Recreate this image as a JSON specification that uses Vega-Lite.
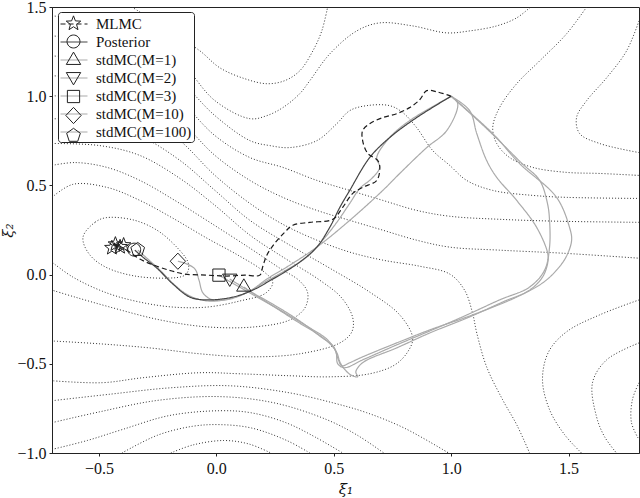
{
"$schema":"https://vega.github.io/schema/vega-lite/v6.json",
"width":587,"height":446,"autosize":{"type":"none"},
"padding":{"left":52,"top":7,"right":1,"bottom":45},
"background":"white",
"config":{"view":{"stroke":"#222","strokeWidth":1},"font":"Liberation Serif"},
"datasets":{
"ct":[
{"c":"C1","i":0,"x":-0.568,"y":0.209},{"c":"C1","i":1,"x":-0.517,"y":0.293},{"c":"C1","i":2,"x":-0.453,"y":0.321},{"c":"C1","i":3,"x":-0.347,"y":0.304},{"c":"C1","i":4,"x":-0.253,"y":0.249},{"c":"C1","i":5,"x":-0.177,"y":0.165},{"c":"C1","i":6,"x":-0.121,"y":0.07},{"c":"C1","i":7,"x":-0.134,"y":-0.003},{"c":"C1","i":8,"x":-0.219,"y":-0.02},{"c":"C1","i":9,"x":-0.347,"y":-0.008},{"c":"C1","i":10,"x":-0.462,"y":0.036},{"c":"C1","i":11,"x":-0.538,"y":0.109},
{"c":"C2","i":0,"x":-0.7,"y":0.433},{"c":"C2","i":1,"x":-0.611,"y":0.506},{"c":"C2","i":2,"x":-0.466,"y":0.489},{"c":"C2","i":3,"x":-0.326,"y":0.416},{"c":"C2","i":4,"x":-0.185,"y":0.316},{"c":"C2","i":5,"x":-0.04,"y":0.204},{"c":"C2","i":6,"x":0.1,"y":0.103},{"c":"C2","i":7,"x":0.194,"y":0.025},{"c":"C2","i":8,"x":0.24,"y":-0.042},{"c":"C2","i":9,"x":0.211,"y":-0.103},{"c":"C2","i":10,"x":0.1,"y":-0.148},{"c":"C2","i":11,"x":-0.04,"y":-0.182},{"c":"C2","i":12,"x":-0.185,"y":-0.182},{"c":"C2","i":13,"x":-0.326,"y":-0.154},{"c":"C2","i":14,"x":-0.466,"y":-0.103},{"c":"C2","i":15,"x":-0.611,"y":-0.014},{"c":"C2","i":16,"x":-0.7,"y":0.07},
{"c":"C3","i":0,"x":-0.7,"y":0.612},{"c":"C3","i":1,"x":-0.602,"y":0.628},{"c":"C3","i":2,"x":-0.466,"y":0.601},{"c":"C3","i":3,"x":-0.326,"y":0.528},{"c":"C3","i":4,"x":-0.177,"y":0.416},{"c":"C3","i":5,"x":-0.028,"y":0.293},{"c":"C3","i":6,"x":0.143,"y":0.148},{"c":"C3","i":7,"x":0.27,"y":0.036},{"c":"C3","i":8,"x":0.355,"y":-0.036},{"c":"C3","i":9,"x":0.389,"y":-0.103},{"c":"C3","i":10,"x":0.377,"y":-0.187},{"c":"C3","i":11,"x":0.313,"y":-0.254},{"c":"C3","i":12,"x":0.164,"y":-0.293},{"c":"C3","i":13,"x":-0.04,"y":-0.293},{"c":"C3","i":14,"x":-0.24,"y":-0.254},{"c":"C3","i":15,"x":-0.453,"y":-0.182},{"c":"C3","i":16,"x":-0.602,"y":-0.126},{"c":"C3","i":17,"x":-0.7,"y":-0.087},
{"c":"C4","i":0,"x":-0.7,"y":0.735},{"c":"C4","i":1,"x":-0.496,"y":0.723},{"c":"C4","i":2,"x":-0.326,"y":0.668},{"c":"C4","i":3,"x":-0.155,"y":0.539},{"c":"C4","i":4,"x":-0.006,"y":0.388},{"c":"C4","i":5,"x":0.143,"y":0.221},{"c":"C4","i":6,"x":0.291,"y":0.092},{"c":"C4","i":7,"x":0.44,"y":-0.031},{"c":"C4","i":8,"x":0.534,"y":-0.131},{"c":"C4","i":9,"x":0.581,"y":-0.243},{"c":"C4","i":10,"x":0.577,"y":-0.321},{"c":"C4","i":11,"x":0.526,"y":-0.383},{"c":"C4","i":12,"x":0.355,"y":-0.444},{"c":"C4","i":13,"x":0.143,"y":-0.461},{"c":"C4","i":14,"x":-0.07,"y":-0.444},{"c":"C4","i":15,"x":-0.283,"y":-0.411},{"c":"C4","i":16,"x":-0.496,"y":-0.388},{"c":"C4","i":17,"x":-0.7,"y":-0.372},
{"c":"C5","i":0,"x":-0.7,"y":0.874},{"c":"C5","i":1,"x":-0.496,"y":0.852},{"c":"C5","i":2,"x":-0.326,"y":0.779},{"c":"C5","i":3,"x":-0.155,"y":0.64},{"c":"C5","i":4,"x":-0.006,"y":0.472},{"c":"C5","i":5,"x":0.143,"y":0.304},{"c":"C5","i":6,"x":0.313,"y":0.165},{"c":"C5","i":7,"x":0.483,"y":0.036},{"c":"C5","i":8,"x":0.653,"y":-0.098},{"c":"C5","i":9,"x":0.781,"y":-0.226},{"c":"C5","i":10,"x":0.836,"y":-0.355},{"c":"C5","i":11,"x":0.815,"y":-0.433},{"c":"C5","i":12,"x":0.76,"y":-0.506},{"c":"C5","i":13,"x":0.653,"y":-0.556},{"c":"C5","i":14,"x":0.483,"y":-0.573},{"c":"C5","i":15,"x":0.313,"y":-0.567},{"c":"C5","i":16,"x":0.1,"y":-0.556},{"c":"C5","i":17,"x":-0.07,"y":-0.55},{"c":"C5","i":18,"x":-0.313,"y":-0.578},{"c":"C5","i":19,"x":-0.487,"y":-0.606},{"c":"C5","i":20,"x":-0.7,"y":-0.595},
{"c":"C6","i":0,"x":-0.7,"y":1.003},{"c":"C6","i":1,"x":-0.496,"y":0.975},{"c":"C6","i":2,"x":-0.326,"y":0.908},{"c":"C6","i":3,"x":-0.155,"y":0.751},{"c":"C6","i":4,"x":-0.006,"y":0.556},{"c":"C6","i":5,"x":0.143,"y":0.399},{"c":"C6","i":6,"x":0.283,"y":0.282},{"c":"C6","i":7,"x":0.428,"y":0.193},{"c":"C6","i":8,"x":0.568,"y":0.126},{"c":"C6","i":9,"x":0.709,"y":0.081},{"c":"C6","i":10,"x":0.866,"y":0.047},{"c":"C6","i":11,"x":0.994,"y":0.003},{"c":"C6","i":12,"x":1.057,"y":-0.087},{"c":"C6","i":13,"x":1.091,"y":-0.215},{"c":"C6","i":14,"x":1.109,"y":-0.327},{"c":"C6","i":15,"x":1.151,"y":-0.517},{"c":"C6","i":16,"x":1.219,"y":-0.701},{"c":"C6","i":17,"x":1.279,"y":-0.841},{"c":"C6","i":18,"x":1.334,"y":-1.0},
{"c":"UF","i":0,"x":-0.7,"y":1.115},{"c":"UF","i":1,"x":-0.496,"y":1.087},{"c":"UF","i":2,"x":-0.326,"y":1.02},{"c":"UF","i":3,"x":-0.155,"y":0.863},{"c":"UF","i":4,"x":-0.006,"y":0.668},{"c":"UF","i":5,"x":0.143,"y":0.528},{"c":"UF","i":6,"x":0.283,"y":0.433},{"c":"UF","i":7,"x":0.428,"y":0.36},{"c":"UF","i":8,"x":0.568,"y":0.304},{"c":"UF","i":9,"x":0.709,"y":0.249},{"c":"UF","i":10,"x":0.853,"y":0.193},{"c":"UF","i":11,"x":0.994,"y":0.154},{"c":"UF","i":12,"x":1.206,"y":0.137},{"c":"UF","i":13,"x":1.474,"y":0.12},{"c":"UF","i":14,"x":1.8,"y":0.092},
{"c":"UE","i":0,"x":-0.7,"y":1.226},{"c":"UE","i":1,"x":-0.496,"y":1.198},{"c":"UE","i":2,"x":-0.326,"y":1.131},{"c":"UE","i":3,"x":-0.155,"y":0.975},{"c":"UE","i":4,"x":-0.006,"y":0.779},{"c":"UE","i":5,"x":0.143,"y":0.656},{"c":"UE","i":6,"x":0.283,"y":0.601},{"c":"UE","i":7,"x":0.428,"y":0.528},{"c":"UE","i":8,"x":0.568,"y":0.472},{"c":"UE","i":9,"x":0.709,"y":0.416},{"c":"UE","i":10,"x":0.853,"y":0.36},{"c":"UE","i":11,"x":0.994,"y":0.327},{"c":"UE","i":12,"x":1.206,"y":0.31},{"c":"UE","i":13,"x":1.462,"y":0.299},{"c":"UE","i":14,"x":1.8,"y":0.293},
{"c":"UD","i":0,"x":-0.7,"y":1.338},{"c":"UD","i":1,"x":-0.496,"y":1.31},{"c":"UD","i":2,"x":-0.326,"y":1.243},{"c":"UD","i":3,"x":-0.155,"y":1.087},{"c":"UD","i":4,"x":-0.006,"y":0.891},{"c":"UD","i":5,"x":0.143,"y":0.751},{"c":"UD","i":6,"x":0.228,"y":0.723},{"c":"UD","i":7,"x":0.313,"y":0.712},{"c":"UD","i":8,"x":0.428,"y":0.751},{"c":"UD","i":9,"x":0.513,"y":0.846},{"c":"UD","i":10,"x":0.568,"y":0.919},{"c":"UD","i":11,"x":0.64,"y":0.947},{"c":"UD","i":12,"x":0.738,"y":0.947},{"c":"UD","i":13,"x":0.794,"y":0.908},{"c":"UD","i":14,"x":0.853,"y":0.824},{"c":"UD","i":15,"x":0.921,"y":0.696},{"c":"UD","i":16,"x":0.994,"y":0.612},{"c":"UD","i":17,"x":1.066,"y":0.528},{"c":"UD","i":18,"x":1.177,"y":0.472},{"c":"UD","i":19,"x":1.347,"y":0.444},{"c":"UD","i":20,"x":1.491,"y":0.433},{"c":"UD","i":21,"x":1.8,"y":0.427},
{"c":"UA","i":0,"x":-0.7,"y":1.45},{"c":"UA","i":1,"x":-0.496,"y":1.422},{"c":"UA","i":2,"x":-0.326,"y":1.355},{"c":"UA","i":3,"x":-0.155,"y":1.198},{"c":"UA","i":4,"x":-0.006,"y":0.975},{"c":"UA","i":5,"x":0.143,"y":0.874},{"c":"UA","i":6,"x":0.215,"y":0.891},{"c":"UA","i":7,"x":0.283,"y":0.936},{"c":"UA","i":8,"x":0.355,"y":1.014},{"c":"UA","i":9,"x":0.398,"y":1.087},{"c":"UA","i":10,"x":0.483,"y":1.237},{"c":"UA","i":11,"x":0.598,"y":1.366},{"c":"UA","i":12,"x":0.696,"y":1.411},{"c":"UA","i":13,"x":0.836,"y":1.394},{"c":"UA","i":14,"x":0.981,"y":1.355},{"c":"UA","i":15,"x":1.079,"y":1.366},{"c":"UA","i":16,"x":1.194,"y":1.394},{"c":"UA","i":17,"x":1.279,"y":1.439},{"c":"UA","i":18,"x":1.338,"y":1.5},
{"c":"U0","i":0,"x":-0.36,"y":1.5},{"c":"U0","i":1,"x":-0.198,"y":1.366},{"c":"U0","i":2,"x":-0.07,"y":1.254},{"c":"U0","i":3,"x":0.015,"y":1.159},{"c":"U0","i":4,"x":0.121,"y":1.098},{"c":"U0","i":5,"x":0.215,"y":1.07},{"c":"U0","i":6,"x":0.291,"y":1.087},{"c":"U0","i":7,"x":0.355,"y":1.142},{"c":"U0","i":8,"x":0.411,"y":1.254},{"c":"U0","i":9,"x":0.449,"y":1.366},{"c":"U0","i":10,"x":0.474,"y":1.5},
{"c":"A1","i":0,"x":-0.194,"y":-1.0},{"c":"A1","i":1,"x":-0.1,"y":-0.955},{"c":"A1","i":2,"x":0.032,"y":-0.93},{"c":"A1","i":3,"x":0.14,"y":-0.95},{"c":"A1","i":4,"x":0.232,"y":-1.0},
{"c":"A2","i":0,"x":-0.402,"y":-1.0},{"c":"A2","i":1,"x":-0.25,"y":-0.9},{"c":"A2","i":2,"x":-0.1,"y":-0.85},{"c":"A2","i":3,"x":0.015,"y":-0.841},{"c":"A2","i":4,"x":0.15,"y":-0.86},{"c":"A2","i":5,"x":0.3,"y":-0.93},{"c":"A2","i":6,"x":0.398,"y":-1.0},
{"c":"A3","i":0,"x":-0.7,"y":-0.98},{"c":"A3","i":1,"x":-0.55,"y":-0.93},{"c":"A3","i":2,"x":-0.402,"y":-0.869},{"c":"A3","i":3,"x":-0.2,"y":-0.79},{"c":"A3","i":4,"x":0.015,"y":-0.763},{"c":"A3","i":5,"x":0.15,"y":-0.775},{"c":"A3","i":6,"x":0.296,"y":-0.83},{"c":"A3","i":7,"x":0.42,"y":-0.91},{"c":"A3","i":8,"x":0.538,"y":-1.0},
{"c":"A4","i":0,"x":-0.7,"y":-0.83},{"c":"A4","i":1,"x":-0.5,"y":-0.77},{"c":"A4","i":2,"x":-0.25,"y":-0.705},{"c":"A4","i":3,"x":0.015,"y":-0.684},{"c":"A4","i":4,"x":0.25,"y":-0.72},{"c":"A4","i":5,"x":0.47,"y":-0.813},{"c":"A4","i":6,"x":0.6,"y":-0.9},{"c":"A4","i":7,"x":0.713,"y":-1.0},
{"c":"A5","i":0,"x":-0.7,"y":-0.707},{"c":"A5","i":1,"x":-0.45,"y":-0.67},{"c":"A5","i":2,"x":-0.2,"y":-0.635},{"c":"A5","i":3,"x":0.053,"y":-0.623},{"c":"A5","i":4,"x":0.3,"y":-0.66},{"c":"A5","i":5,"x":0.5,"y":-0.72},{"c":"A5","i":6,"x":0.64,"y":-0.774},{"c":"A5","i":7,"x":0.8,"y":-0.86},{"c":"A5","i":8,"x":0.989,"y":-1.0},
{"c":"RA","i":0,"x":1.8,"y":-0.142},{"c":"RA","i":1,"x":1.632,"y":-0.226},{"c":"RA","i":2,"x":1.491,"y":-0.321},{"c":"RA","i":3,"x":1.415,"y":-0.433},{"c":"RA","i":4,"x":1.389,"y":-0.589},{"c":"RA","i":5,"x":1.419,"y":-0.757},{"c":"RA","i":6,"x":1.483,"y":-0.897},{"c":"RA","i":7,"x":1.555,"y":-1.0},
{"c":"RB","i":0,"x":1.8,"y":-0.383},{"c":"RB","i":1,"x":1.662,"y":-0.478},{"c":"RB","i":2,"x":1.602,"y":-0.606},{"c":"RB","i":3,"x":1.619,"y":-0.796},{"c":"RB","i":4,"x":1.653,"y":-0.908},{"c":"RB","i":5,"x":1.704,"y":-1.0},
{"c":"RC","i":0,"x":1.8,"y":-0.606},{"c":"RC","i":1,"x":1.772,"y":-0.701},{"c":"RC","i":2,"x":1.768,"y":-0.83},{"c":"RC","i":3,"x":1.8,"y":-0.925},
{"c":"UB","i":0,"x":1.577,"y":1.5},{"c":"UB","i":1,"x":1.491,"y":1.349},{"c":"UB","i":2,"x":1.377,"y":1.198},{"c":"UB","i":3,"x":1.279,"y":1.07},{"c":"UB","i":4,"x":1.206,"y":0.936},{"c":"UB","i":5,"x":1.177,"y":0.824},{"c":"UB","i":6,"x":1.194,"y":0.735},{"c":"UB","i":7,"x":1.249,"y":0.656},{"c":"UB","i":8,"x":1.347,"y":0.601},{"c":"UB","i":9,"x":1.491,"y":0.573},{"c":"UB","i":10,"x":1.632,"y":0.567},{"c":"UB","i":11,"x":1.8,"y":0.556},
{"c":"UC","i":0,"x":1.8,"y":1.422},{"c":"UC","i":1,"x":1.747,"y":1.254},{"c":"UC","i":2,"x":1.662,"y":1.103},{"c":"UC","i":3,"x":1.577,"y":0.975},{"c":"UC","i":4,"x":1.534,"y":0.88},{"c":"UC","i":5,"x":1.547,"y":0.791},{"c":"UC","i":6,"x":1.632,"y":0.735},{"c":"UC","i":7,"x":1.8,"y":0.684}
],
"tr":[
{"s":"stdMC(M=1)","i":0,"x":1.0,"y":1.0},{"s":"stdMC(M=1)","i":1,"x":1.177,"y":0.791},{"s":"stdMC(M=1)","i":2,"x":1.291,"y":0.623},{"s":"stdMC(M=1)","i":3,"x":1.449,"y":0.433},{"s":"stdMC(M=1)","i":4,"x":1.504,"y":0.265},{"s":"stdMC(M=1)","i":5,"x":1.513,"y":0.193},{"s":"stdMC(M=1)","i":6,"x":1.491,"y":0.103},{"s":"stdMC(M=1)","i":7,"x":1.449,"y":0.025},{"s":"stdMC(M=1)","i":8,"x":1.389,"y":-0.047},{"s":"stdMC(M=1)","i":9,"x":1.279,"y":-0.126},{"s":"stdMC(M=1)","i":10,"x":1.091,"y":-0.226},{"s":"stdMC(M=1)","i":11,"x":0.909,"y":-0.31},{"s":"stdMC(M=1)","i":12,"x":0.768,"y":-0.383},{"s":"stdMC(M=1)","i":13,"x":0.623,"y":-0.461},{"s":"stdMC(M=1)","i":14,"x":0.568,"y":-0.494},{"s":"stdMC(M=1)","i":15,"x":0.534,"y":-0.511},{"s":"stdMC(M=1)","i":16,"x":0.517,"y":-0.467},{"s":"stdMC(M=1)","i":17,"x":0.5,"y":-0.405},{"s":"stdMC(M=1)","i":18,"x":0.44,"y":-0.344},{"s":"stdMC(M=1)","i":19,"x":0.355,"y":-0.26},{"s":"stdMC(M=1)","i":20,"x":0.24,"y":-0.165},{"s":"stdMC(M=1)","i":21,"x":0.164,"y":-0.109},{"s":"stdMC(M=1)","i":22,"x":0.117,"y":-0.07},
{"s":"stdMC(M=2)","i":0,"x":1.0,"y":1.0},{"s":"stdMC(M=2)","i":1,"x":1.079,"y":0.919},{"s":"stdMC(M=2)","i":2,"x":1.109,"y":0.791},{"s":"stdMC(M=2)","i":3,"x":1.151,"y":0.64},{"s":"stdMC(M=2)","i":4,"x":1.194,"y":0.545},{"s":"stdMC(M=2)","i":5,"x":1.279,"y":0.416},{"s":"stdMC(M=2)","i":6,"x":1.364,"y":0.265},{"s":"stdMC(M=2)","i":7,"x":1.411,"y":0.12},{"s":"stdMC(M=2)","i":8,"x":1.411,"y":0.064},{"s":"stdMC(M=2)","i":9,"x":1.389,"y":-0.014},{"s":"stdMC(M=2)","i":10,"x":1.334,"y":-0.087},{"s":"stdMC(M=2)","i":11,"x":1.219,"y":-0.154},{"s":"stdMC(M=2)","i":12,"x":1.079,"y":-0.237},{"s":"stdMC(M=2)","i":13,"x":0.909,"y":-0.327},{"s":"stdMC(M=2)","i":14,"x":0.768,"y":-0.411},{"s":"stdMC(M=2)","i":15,"x":0.623,"y":-0.494},{"s":"stdMC(M=2)","i":16,"x":0.594,"y":-0.545},{"s":"stdMC(M=2)","i":17,"x":0.602,"y":-0.573},{"s":"stdMC(M=2)","i":18,"x":0.57,"y":-0.56},{"s":"stdMC(M=2)","i":19,"x":0.53,"y":-0.5},{"s":"stdMC(M=2)","i":20,"x":0.51,"y":-0.43},{"s":"stdMC(M=2)","i":21,"x":0.46,"y":-0.36},{"s":"stdMC(M=2)","i":22,"x":0.34,"y":-0.26},{"s":"stdMC(M=2)","i":23,"x":0.21,"y":-0.15},{"s":"stdMC(M=2)","i":24,"x":0.057,"y":-0.025},
{"s":"stdMC(M=3)","i":0,"x":1.0,"y":1.0},{"s":"stdMC(M=3)","i":1,"x":1.15,"y":0.82},{"s":"stdMC(M=3)","i":2,"x":1.3,"y":0.625},{"s":"stdMC(M=3)","i":3,"x":1.377,"y":0.528},{"s":"stdMC(M=3)","i":4,"x":1.41,"y":0.4},{"s":"stdMC(M=3)","i":5,"x":1.419,"y":0.304},{"s":"stdMC(M=3)","i":6,"x":1.419,"y":0.154},{"s":"stdMC(M=3)","i":7,"x":1.398,"y":0.025},{"s":"stdMC(M=3)","i":8,"x":1.334,"y":-0.07},{"s":"stdMC(M=3)","i":9,"x":1.206,"y":-0.142},{"s":"stdMC(M=3)","i":10,"x":1.057,"y":-0.232},{"s":"stdMC(M=3)","i":11,"x":0.909,"y":-0.316},{"s":"stdMC(M=3)","i":12,"x":0.768,"y":-0.394},{"s":"stdMC(M=3)","i":13,"x":0.623,"y":-0.478},{"s":"stdMC(M=3)","i":14,"x":0.545,"y":-0.522},{"s":"stdMC(M=3)","i":15,"x":0.517,"y":-0.5},{"s":"stdMC(M=3)","i":16,"x":0.509,"y":-0.433},{"s":"stdMC(M=3)","i":17,"x":0.474,"y":-0.366},{"s":"stdMC(M=3)","i":18,"x":0.377,"y":-0.282},{"s":"stdMC(M=3)","i":19,"x":0.249,"y":-0.182},{"s":"stdMC(M=3)","i":20,"x":0.121,"y":-0.087},{"s":"stdMC(M=3)","i":21,"x":0.011,"y":-0.003},
{"s":"stdMC(M=10)","i":0,"x":1.0,"y":1.0},{"s":"stdMC(M=10)","i":1,"x":1.028,"y":0.958},{"s":"stdMC(M=10)","i":2,"x":0.981,"y":0.807},{"s":"stdMC(M=10)","i":3,"x":0.896,"y":0.712},{"s":"stdMC(M=10)","i":4,"x":0.781,"y":0.567},{"s":"stdMC(M=10)","i":5,"x":0.709,"y":0.472},{"s":"stdMC(M=10)","i":6,"x":0.568,"y":0.304},{"s":"stdMC(M=10)","i":7,"x":0.428,"y":0.154},{"s":"stdMC(M=10)","i":8,"x":0.313,"y":0.053},{"s":"stdMC(M=10)","i":9,"x":0.215,"y":-0.025},{"s":"stdMC(M=10)","i":10,"x":0.143,"y":-0.092},{"s":"stdMC(M=10)","i":11,"x":0.057,"y":-0.137},{"s":"stdMC(M=10)","i":12,"x":-0.015,"y":-0.142},{"s":"stdMC(M=10)","i":13,"x":-0.057,"y":-0.103},{"s":"stdMC(M=10)","i":14,"x":-0.074,"y":-0.031},{"s":"stdMC(M=10)","i":15,"x":-0.091,"y":0.031},{"s":"stdMC(M=10)","i":16,"x":-0.134,"y":0.064},{"s":"stdMC(M=10)","i":17,"x":-0.164,"y":0.075},
{"s":"stdMC(M=100)","i":0,"x":1.0,"y":1.0},{"s":"stdMC(M=100)","i":1,"x":0.823,"y":0.863},{"s":"stdMC(M=100)","i":2,"x":0.738,"y":0.768},{"s":"stdMC(M=100)","i":3,"x":0.683,"y":0.656},{"s":"stdMC(M=100)","i":4,"x":0.696,"y":0.601},{"s":"stdMC(M=100)","i":5,"x":0.662,"y":0.539},{"s":"stdMC(M=100)","i":6,"x":0.611,"y":0.483},{"s":"stdMC(M=100)","i":7,"x":0.568,"y":0.399},{"s":"stdMC(M=100)","i":8,"x":0.513,"y":0.293},{"s":"stdMC(M=100)","i":9,"x":0.453,"y":0.193},{"s":"stdMC(M=100)","i":10,"x":0.385,"y":0.098},{"s":"stdMC(M=100)","i":11,"x":0.291,"y":0.02},{"s":"stdMC(M=100)","i":12,"x":0.206,"y":-0.042},{"s":"stdMC(M=100)","i":13,"x":0.134,"y":-0.098},{"s":"stdMC(M=100)","i":14,"x":0.049,"y":-0.137},{"s":"stdMC(M=100)","i":15,"x":-0.036,"y":-0.148},{"s":"stdMC(M=100)","i":16,"x":-0.113,"y":-0.12},{"s":"stdMC(M=100)","i":17,"x":-0.177,"y":-0.059},{"s":"stdMC(M=100)","i":18,"x":-0.24,"y":0.025},{"s":"stdMC(M=100)","i":19,"x":-0.296,"y":0.092},{"s":"stdMC(M=100)","i":20,"x":-0.334,"y":0.137},
{"s":"Posterior","i":0,"x":1.0,"y":1.0},{"s":"Posterior","i":1,"x":0.853,"y":0.88},{"s":"Posterior","i":2,"x":0.738,"y":0.768},{"s":"Posterior","i":3,"x":0.653,"y":0.656},{"s":"Posterior","i":4,"x":0.568,"y":0.472},{"s":"Posterior","i":5,"x":0.526,"y":0.377},{"s":"Posterior","i":6,"x":0.483,"y":0.265},{"s":"Posterior","i":7,"x":0.428,"y":0.154},{"s":"Posterior","i":8,"x":0.355,"y":0.07},{"s":"Posterior","i":9,"x":0.291,"y":0.014},{"s":"Posterior","i":10,"x":0.24,"y":-0.025},{"s":"Posterior","i":11,"x":0.155,"y":-0.087},{"s":"Posterior","i":12,"x":0.07,"y":-0.126},{"s":"Posterior","i":13,"x":-0.04,"y":-0.142},{"s":"Posterior","i":14,"x":-0.113,"y":-0.126},{"s":"Posterior","i":15,"x":-0.185,"y":-0.053},{"s":"Posterior","i":16,"x":-0.253,"y":0.036},{"s":"Posterior","i":17,"x":-0.313,"y":0.098},{"s":"Posterior","i":18,"x":-0.347,"y":0.137},
{"s":"MLMC","i":0,"x":1.0,"y":1.0},{"s":"MLMC","i":1,"x":0.938,"y":1.025},{"s":"MLMC","i":2,"x":0.896,"y":1.031},{"s":"MLMC","i":3,"x":0.866,"y":0.98},{"s":"MLMC","i":4,"x":0.823,"y":0.936},{"s":"MLMC","i":5,"x":0.768,"y":0.902},{"s":"MLMC","i":6,"x":0.709,"y":0.88},{"s":"MLMC","i":7,"x":0.653,"y":0.846},{"s":"MLMC","i":8,"x":0.623,"y":0.807},{"s":"MLMC","i":9,"x":0.623,"y":0.751},{"s":"MLMC","i":10,"x":0.645,"y":0.679},{"s":"MLMC","i":11,"x":0.687,"y":0.64},{"s":"MLMC","i":12,"x":0.696,"y":0.601},{"s":"MLMC","i":13,"x":0.683,"y":0.528},{"s":"MLMC","i":14,"x":0.623,"y":0.489},{"s":"MLMC","i":15,"x":0.581,"y":0.455},{"s":"MLMC","i":16,"x":0.538,"y":0.377},{"s":"MLMC","i":17,"x":0.496,"y":0.31},{"s":"MLMC","i":18,"x":0.398,"y":0.293},{"s":"MLMC","i":19,"x":0.326,"y":0.277},{"s":"MLMC","i":20,"x":0.291,"y":0.237},{"s":"MLMC","i":21,"x":0.249,"y":0.176},{"s":"MLMC","i":22,"x":0.215,"y":0.109},{"s":"MLMC","i":23,"x":0.198,"y":0.047},{"s":"MLMC","i":24,"x":0.185,"y":-0.003},{"s":"MLMC","i":25,"x":0.121,"y":-0.003},{"s":"MLMC","i":26,"x":0.045,"y":-0.008},{"s":"MLMC","i":27,"x":-0.04,"y":-0.003},{"s":"MLMC","i":28,"x":-0.134,"y":0.003},{"s":"MLMC","i":29,"x":-0.189,"y":0.02},{"s":"MLMC","i":30,"x":-0.253,"y":0.047},{"s":"MLMC","i":31,"x":-0.326,"y":0.087},{"s":"MLMC","i":32,"x":-0.381,"y":0.137},{"s":"MLMC","i":33,"x":-0.411,"y":0.159},{"s":"MLMC","i":34,"x":-0.43,"y":0.17},{"s":"MLMC","i":35,"x":-0.4,"y":0.14},{"s":"MLMC","i":36,"x":-0.44,"y":0.18},{"s":"MLMC","i":37,"x":-0.42,"y":0.15}
],
"mk":[
{"s":"stdMC(M=100)","x":-0.335,"y":0.14},{"s":"Posterior","x":-0.35,"y":0.14},
{"s":"MLMC","x":-0.43,"y":0.17},{"s":"MLMC","x":-0.41,"y":0.155},{"s":"MLMC","x":-0.445,"y":0.15},{"s":"MLMC","x":-0.395,"y":0.165},
{"s":"stdMC(M=10)","x":-0.164,"y":0.075},{"s":"stdMC(M=3)","x":0.011,"y":-0.003},{"s":"stdMC(M=2)","x":0.057,"y":-0.025},{"s":"stdMC(M=1)","x":0.117,"y":-0.065}
]
},
"encoding":{
"x":{"field":"x","type":"quantitative","scale":{"domain":[-0.7,1.8],"nice":false,"zero":false},
 "axis":{"values":[-0.5,0,0.5,1,1.5],"format":".1f","title":"ξ₁","titleFont":"DejaVu Serif","titleFontStyle":"italic","titleFontWeight":"normal","titleFontSize":15,"titleColor":"#111","titlePadding":5,"labelFont":"Liberation Serif","labelFontSize":16,"labelColor":"#111","labelFlush":false,"labelPadding":4,"tickSize":3,"tickColor":"#222","domainColor":"#222","grid":false}},
"y":{"field":"y","type":"quantitative","scale":{"domain":[-1,1.5],"nice":false,"zero":false},
 "axis":{"values":[-1,-0.5,0,0.5,1,1.5],"format":".1f","title":"ξ₂","titleFont":"DejaVu Serif","titleFontStyle":"italic","titleFontWeight":"normal","titleFontSize":15,"titleColor":"#111","titlePadding":1,"labelFont":"Liberation Serif","labelFontSize":16,"labelColor":"#111","labelFlush":false,"labelPadding":3,"tickSize":3,"tickColor":"#222","domainColor":"#222","grid":false}}
},
"layer":[
{"data":{"name":"ct"},"transform":[{"filter":"datum.c != 'C1'"}],
 "mark":{"type":"line","interpolate":"catmull-rom","clip":true,"stroke":"#333","strokeWidth":1,"strokeDash":[1,2]},
 "encoding":{"detail":{"field":"c"},"order":{"field":"i","type":"quantitative"}}},
{"data":{"name":"ct"},"transform":[{"filter":"datum.c == 'C1'"}],
 "mark":{"type":"line","interpolate":"cardinal-closed","clip":true,"stroke":"#333","strokeWidth":1,"strokeDash":[1,2]},
 "encoding":{"detail":{"field":"c"},"order":{"field":"i","type":"quantitative"}}},
{"data":{"name":"tr"},
 "mark":{"type":"line","interpolate":"catmull-rom","clip":true,"strokeWidth":1.2},
 "encoding":{
  "color":{"field":"s","type":"nominal","scale":{"domain":["MLMC","Posterior","stdMC(M=1)","stdMC(M=2)","stdMC(M=3)","stdMC(M=10)","stdMC(M=100)"],"range":["#1a1a1a","#444444","#aaaaaa","#aaaaaa","#aaaaaa","#aaaaaa","#aaaaaa"]},
   "legend":{"orient":"none","legendX":6,"legendY":5,"title":null,"direction":"vertical","columns":1,"symbolType":"M-1.5,0L1.5,0","symbolSize":324,"symbolStrokeWidth":1.2,"labelFont":"Liberation Serif","labelFontSize":15,"labelColor":"#111","labelOffset":12,"symbolOffset":4,"padding":2,"rowPadding":0,"fillColor":"white","strokeColor":"#222","cornerRadius":3}},
  "strokeDash":{"field":"s","type":"nominal","scale":{"domain":["MLMC","Posterior","stdMC(M=1)","stdMC(M=2)","stdMC(M=3)","stdMC(M=10)","stdMC(M=100)"],"range":[[5,3],[1,0],[1,0],[1,0],[1,0],[1,0],[1,0]]},
   "legend":{"orient":"none","legendX":6,"legendY":5,"title":null,"direction":"vertical","columns":1,"symbolType":"M-1.5,0L1.5,0","symbolSize":324,"symbolStrokeWidth":1.2,"labelFont":"Liberation Serif","labelFontSize":15,"labelColor":"#111","labelOffset":12,"symbolOffset":4,"padding":2,"rowPadding":0,"fillColor":"white","strokeColor":"#222","cornerRadius":3}},
  "order":{"field":"i","type":"quantitative"}}},
{"data":{"name":"mk"},
 "mark":{"type":"point","filled":false,"stroke":"#222","strokeWidth":1,"size":324,"opacity":1},
 "encoding":{
  "shape":{"field":"s","type":"nominal","sort":["MLMC","Posterior","stdMC(M=1)","stdMC(M=2)","stdMC(M=3)","stdMC(M=10)","stdMC(M=100)"],
   "scale":{"range":["M0,-0.85L0.212,-0.291L0.808,-0.263L0.342,0.111L0.5,0.688L0,0.36L-0.5,0.688L-0.342,0.111L-0.808,-0.263L-0.212,-0.291Z","M-0.72,0A0.72,0.72,0,1,1,0.72,0A0.72,0.72,0,1,1,-0.72,0Z","M0,-0.82L0.8,0.55L-0.8,0.55Z","M0,0.82L0.8,-0.55L-0.8,-0.55Z","M-0.68,-0.68L0.68,-0.68L0.68,0.68L-0.68,0.68Z","M0,-0.9L0.85,0L0,0.9L-0.85,0Z","M0,-0.8L0.761,-0.247L0.47,0.647L-0.47,0.647L-0.761,-0.247Z"]},
   "legend":{"orient":"none","legendX":6,"legendY":5,"title":null,"direction":"vertical","columns":1,"symbolSize":324,"symbolStrokeWidth":1,"symbolStrokeColor":"#222","symbolFillColor":"transparent","labelFont":"Liberation Serif","labelFontSize":15,"labelColor":"transparent","labelExpr":"''","labelOffset":12,"symbolOffset":4,"padding":2,"rowPadding":0}}}}
]
}
